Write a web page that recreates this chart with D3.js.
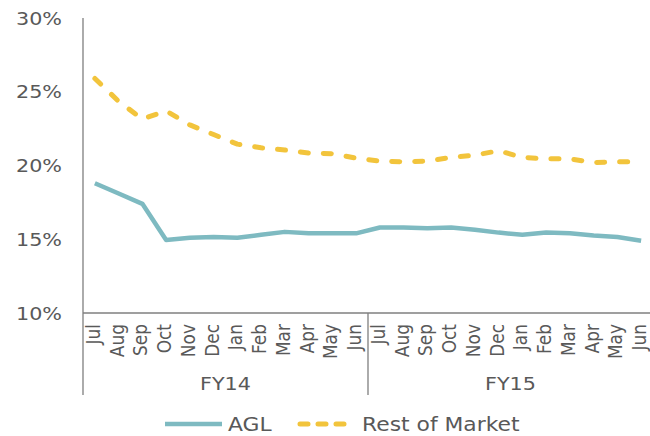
<!DOCTYPE html>
<html>
<head>
<meta charset="utf-8">
<script src="https://cdn.jsdelivr.net/npm/d3@7"></script>
<style>
  body { margin: 0; background: #fff; }
  svg text { font-family: "DejaVu Sans", Verdana, sans-serif; fill: #595959; }
</style>
</head>
<body>
<svg id="chart" width="650" height="436"></svg>
<script>
// data
const months = ["Jul","Aug","Sep","Oct","Nov","Dec","Jan","Feb","Mar","Apr","May","Jun",
                "Jul","Aug","Sep","Oct","Nov","Dec","Jan","Feb","Mar","Apr","May","Jun"];
const years = ["FY14", "FY15"];
const agl = [18.8, 18.1, 17.4, 14.95, 15.1, 15.15, 15.1, 15.3, 15.5, 15.4, 15.4, 15.4,
             15.8, 15.8, 15.75, 15.8, 15.65, 15.45, 15.3, 15.45, 15.4, 15.25, 15.15, 14.9];
const restOfMarket = [25.9, 24.35, 23.15, 23.7, 22.75, 22.1, 21.45, 21.2, 21.05, 20.85, 20.8, 20.5,
                      20.3, 20.25, 20.3, 20.55, 20.7, 21.0, 20.55, 20.45, 20.45, 20.2, 20.25, 20.25];
const yTicks = [10, 15, 20, 25, 30];

const svg = d3.select("#chart");
const sx = 1.15; // text in the reference is drawn a bit wide

const x = d3.scaleBand().domain(d3.range(months.length)).range([83, 653]);
const y = d3.scaleLinear().domain([10, 30]).range([313, 18]);
const cx = i => x(i) + x.bandwidth() / 2;

function wideText(g, tx, ty, str, size, anchor, rot) {
  return g.append("text")
    .attr("transform", `translate(${tx},${ty}) scale(${sx},1)` + (rot ? ` rotate(${rot})` : ""))
    .attr("text-anchor", anchor)
    .style("font-size", size + "px")
    .text(str);
}

// y labels
const yl = svg.append("g");
yTicks.forEach(t => wideText(yl, 62, y(t) + 6.5, t + "%", 18, "end"));

// axis lines
const axisColor = "#7f7f7f";
svg.append("line").attr("x1", 83).attr("x2", 83).attr("y1", y(30)).attr("y2", 395)
  .attr("stroke", axisColor).attr("stroke-width", 1.3);
svg.append("line").attr("x1", 83).attr("x2", 653).attr("y1", y(10)).attr("y2", y(10))
  .attr("stroke", axisColor).attr("stroke-width", 1.3);
svg.append("line").attr("x1", x(12)).attr("x2", x(12)).attr("y1", y(10)).attr("y2", 395)
  .attr("stroke", axisColor).attr("stroke-width", 1.3);

// month labels
const ml = svg.append("g");
months.forEach((m, i) => wideText(ml, cx(i) + 5, 324, m, 17, "end", -90));

// year group labels
const gl = svg.append("g");
years.forEach((yr, k) => {
  const mid = (x(k * 12) + x(k * 12 + 11) + x.bandwidth()) / 2;
  wideText(gl, mid, 390, yr, 18, "middle");
});

// lines
const line = d3.line().x((d, i) => cx(i)).y(d => y(d));
svg.append("path").datum(restOfMarket).attr("d", line)
  .attr("fill", "none").attr("stroke", "#f2c43c").attr("stroke-width", 5)
  .attr("stroke-dasharray", "8,15").attr("stroke-linecap", "round").attr("stroke-linejoin", "round");
svg.append("path").datum(agl).attr("d", line)
  .attr("fill", "none").attr("stroke", "#7ebac1").attr("stroke-width", 4.5)
  .attr("stroke-linejoin", "round");

// legend
const lg = svg.append("g");
lg.append("line").attr("x1", 165).attr("x2", 222).attr("y1", 424).attr("y2", 424)
  .attr("stroke", "#7ebac1").attr("stroke-width", 4.5);
wideText(lg, 228, 431, "AGL", 19, "start");
lg.append("line").attr("x1", 300).attr("x2", 350).attr("y1", 424).attr("y2", 424)
  .attr("stroke", "#f2c43c").attr("stroke-width", 5)
  .attr("stroke-dasharray", "8,10").attr("stroke-linecap", "round");
wideText(lg, 362, 431, "Rest of Market", 19, "start");
</script>
</body>
</html>
